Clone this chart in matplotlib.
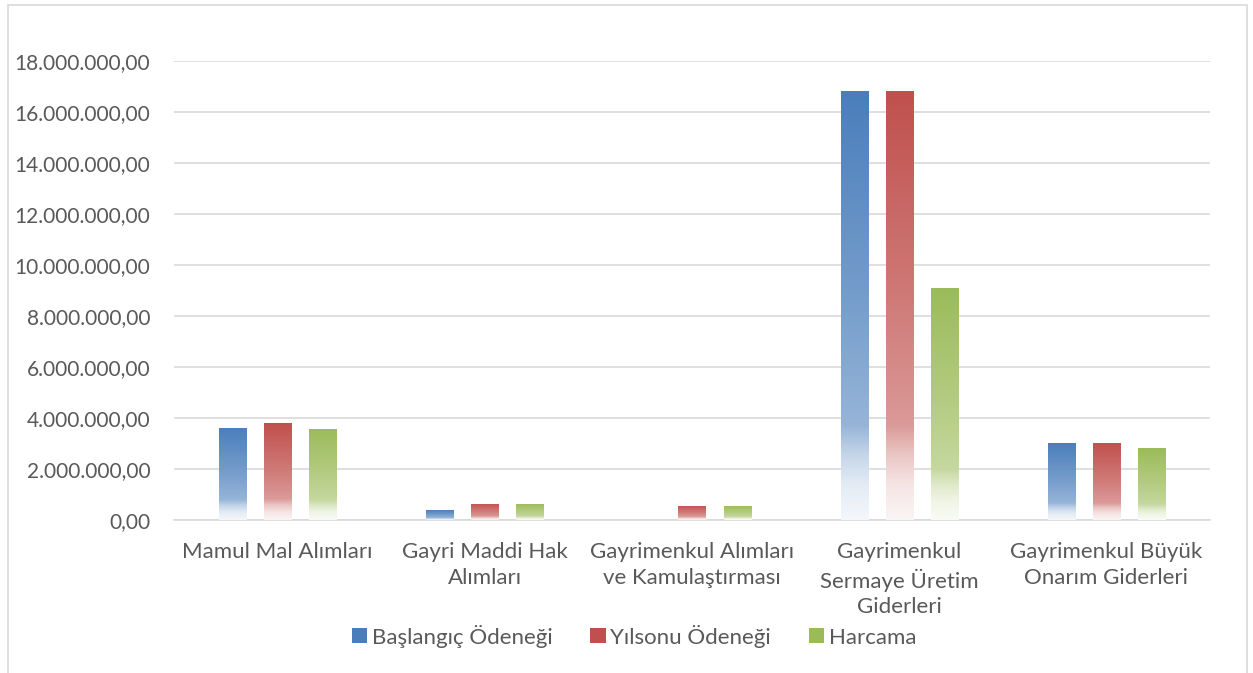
import numpy as np
import matplotlib
matplotlib.use("Agg")
import matplotlib.pyplot as plt
from matplotlib.colors import LinearSegmentedColormap, to_rgb
from matplotlib.patches import Patch, Rectangle
from matplotlib.ticker import FuncFormatter

categories = ["Mamul Mal Alımları", "Gayri Maddi Hak\nAlımları",
              "Gayrimenkul Alımları\nve Kamulaştırması",
              "Gayrimenkul\nSermaye Üretim\nGiderleri",
              "Gayrimenkul Büyük\nOnarım Giderleri"]
series_names = ["Başlangıç Ödeneği", "Yılsonu Ödeneği", "Harcama"]
baslangic = [3610000, 390000, 0, 16820000, 3020000]
yilsonu = [3800000, 630000, 550000, 16820000, 3020000]
harcama = [3570000, 630000, 550000, 9100000, 2820000]
yticks = [0, 2e6, 4e6, 6e6, 8e6, 10e6, 12e6, 14e6, 16e6, 18e6]

colors = ["#4A7EBB", "#C0504D", "#9BBB59"]
txt = "#595959"
font = "Lato"

fig = plt.figure(figsize=(12.53, 6.73), dpi=100)
fig.patches.append(Rectangle((8/1253, -0.01), (1247-8)/1253, 1 - 5/673 + 0.01,
                             transform=fig.transFigure, fill=False,
                             edgecolor="#D9D9D9", linewidth=1.2))
ax = fig.add_axes([174/1253, 1-520/673, (1210-174)/1253, (520-61)/673])

x = np.arange(len(categories))
w = 27/207
off = 45/207

def cmap_for(c):
    base = np.array(to_rgb(c))
    white = np.ones(3)
    stops = [(0.0, 0.94), (0.08, 0.85), (0.15, 0.68), (0.22, 0.42), (0.5, 0.25), (1.0, 0.0)]
    return LinearSegmentedColormap.from_list(
        "g" + c, [(p, tuple(base*(1-f) + white*f)) for p, f in stops])

grad = np.linspace(0, 1, 256).reshape(-1, 1)
for i, (vals, col) in enumerate(zip([baslangic, yilsonu, harcama], colors)):
    bars = ax.bar(x + (i-1)*off, vals, width=w, facecolor="none", edgecolor="none", zorder=3)
    cm = cmap_for(col)
    for r in bars:
        h = r.get_height()
        if h <= 0:
            continue
        x0 = r.get_x()
        im = ax.imshow(grad, cmap=cm, origin="lower", aspect="auto",
                       extent=[x0, x0 + r.get_width(), 0, h], zorder=3,
                       interpolation="bilinear")
        im.set_clip_path(r)

ax.set_xlim(-0.5, len(categories) - 0.5)
ax.set_ylim(0, 18e6)
ax.set_yticks(yticks)
ax.yaxis.set_major_formatter(FuncFormatter(
    lambda v, p: f"{v:,.2f}".replace(",", "X").replace(".", ",").replace("X", ".")))
ax.set_xticks(x)
ax.set_xticklabels(categories, linespacing=1.33)
ax.grid(axis="y", color="#D9D9D9", linewidth=1.2, zorder=0)
ax.set_axisbelow(True)
for s in ["top", "right", "left"]:
    ax.spines[s].set_visible(False)
ax.spines["bottom"].set_color("#D9D9D9")
ax.spines["bottom"].set_linewidth(1.2)
ax.tick_params(axis="both", length=0, labelcolor=txt)
ax.tick_params(axis="y", pad=17, labelsize=15)
ax.tick_params(axis="x", pad=16, labelsize=16)
for lab in ax.get_xticklabels() + ax.get_yticklabels():
    lab.set_fontfamily(font)

handles = [Patch(facecolor=c, edgecolor="none") for c in colors]
leg = fig.legend(handles, series_names, loc="center", ncol=3,
                 bbox_to_anchor=(634/1253, 1-636/673), frameon=False,
                 handlelength=0.7, handleheight=0.65, handletextpad=0.2,
                 columnspacing=1.7, prop={"family": font, "size": 16})
for t in leg.get_texts():
    t.set_color(txt)

fig.savefig("out.png", dpi=100)
